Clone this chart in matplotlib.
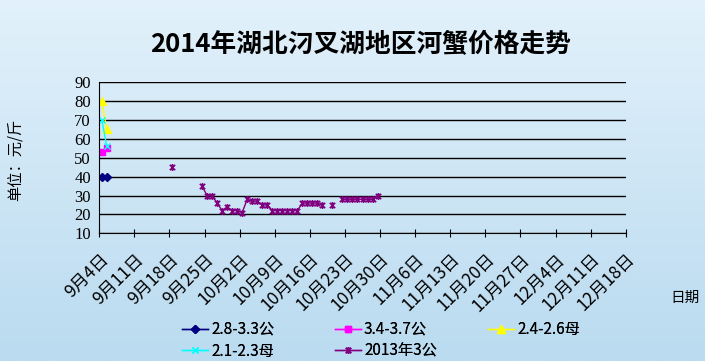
import numpy as np
import pandas as pd
import matplotlib
matplotlib.use('Agg')
import matplotlib.pyplot as plt
from matplotlib.path import Path

plt.rcParams['font.family'] = ['Noto Sans CJK SC', 'DejaVu Sans']

# data: dates in 2014, prices in 元/斤
start = pd.Timestamp('2014-09-04')
end = pd.Timestamp('2014-12-18')

dates_new = ['2014-09-04', '2014-09-05']
s_28_33 = [40, 40]
s_34_37 = [53, 55]
s_24_26 = [80, 65]
s_21_23 = [70, 56]

# 2013 series, one value per day from 9/18, None = no quote
dates_2013 = pd.date_range('2014-09-18', '2014-10-29')
s_2013 = [45, None, None, None, None, None, 35, 30, 30, 26, 22, 24, 22, 22, 21,
          28, 27, 27, 25, 25, 22, 22, 22, 22, 22, 22, 26, 26, 26, 26, 25,
          None, 25, None, 28, 28, 28, 28, 28, 28, 28, 30]

series_names = ['2.8-3.3公', '3.4-3.7公', '2.4-2.6母', '2.1-2.3母', '2013年3公']

W, H = 705, 361
fig = plt.figure(figsize=(W / 100, H / 100), dpi=100)

# background gradient
bg = fig.add_axes([0, 0, 1, 1], zorder=-10)
top = np.array([226, 241, 251]) / 255
bot = np.array([186, 219, 240]) / 255
t = np.linspace(0, 1, 256).reshape(256, 1, 1)
img = top + (bot - top) * t
bg.imshow(img, aspect='auto', extent=[0, 1, 0, 1])
bg.axis('off')

ax = fig.add_axes([99.3 / W, 1 - 233.3 / H, (625.7 - 99.3) / W, (233.3 - 82.3) / H])
ax.patch.set_alpha(0)

half = pd.Timedelta(hours=12)
x_new = pd.to_datetime(dates_new) + half
x_2013 = dates_2013 + half
y_2013 = np.array([np.nan if v is None else v for v in s_2013], dtype=float)

star = Path([(-1, -1), (1, 1), (-1, 1), (1, -1), (0, -1.3), (0, 1.3)],
            [Path.MOVETO, Path.LINETO, Path.MOVETO, Path.LINETO, Path.MOVETO, Path.LINETO])

l1, = ax.plot(x_new, s_28_33, color='#000080', marker='D', ms=4, lw=1, label=series_names[0])
l2, = ax.plot(x_new, s_34_37, color='#FF00FF', marker='s', ms=5, lw=1, label=series_names[1])
l3, = ax.plot(x_new, s_24_26, color='#FFFF00', marker='^', ms=6, lw=1, label=series_names[2])
l4, = ax.plot(x_new, s_21_23, color='#00FFFF', marker='x', ms=4, lw=1, label=series_names[3])
l5, = ax.plot(x_2013, y_2013, color='#800080', marker=star, ms=5, mew=1.2, lw=1,
              label=series_names[4])

ax.set_xlim(start, end)
ax.set_ylim(10, 90)
ax.set_yticks(range(10, 91, 10))
ax.yaxis.grid(True, color='black', lw=1)
ax.set_axisbelow(True)
for s in ['top', 'right']:
    ax.spines[s].set_visible(False)

ticks = pd.date_range(start, end, freq='7D')
ax.set_xticks(ticks)
ax.set_xticklabels([f'{d.month}月{d.day}日' for d in ticks], rotation=45,
                   ha='right', va='top', rotation_mode='anchor', fontsize=12.5)
ax.tick_params(axis='x', direction='inout', length=6, color='black', pad=9)
ax.tick_params(axis='y', length=0, pad=6)
for lab in ax.get_yticklabels():
    lab.set_family(['Liberation Serif'])
    lab.set_fontsize(12)

fig.text(361 / W, 1 - 45 / H, '2014年湖北汈叉湖地区河蟹价格走势', ha='center', va='center',
         fontsize=18.5, fontweight='bold')
fig.text(15 / W, 1 - 160 / H, '单位：元/斤', rotation=90, ha='center', va='center', fontsize=11)
fig.text(685 / W, 1 - 298 / H, '日期', ha='center', va='center', fontsize=10.5)

# legend: three columns, row-major like the original
cols = [([l1, l4], 182), ([l2, l5], 335), ([l3], 488)]
for handles, xpos in cols:
    leg = fig.legend(handles=handles, loc='upper left', bbox_to_anchor=(xpos / W, 1 - 321 / H),
                     frameon=False, fontsize=11, handlelength=1.7, handletextpad=0.2,
                     labelspacing=0.3, borderaxespad=0, borderpad=0)
    fig.add_artist(leg)

fig.savefig('out.png', dpi=100)
